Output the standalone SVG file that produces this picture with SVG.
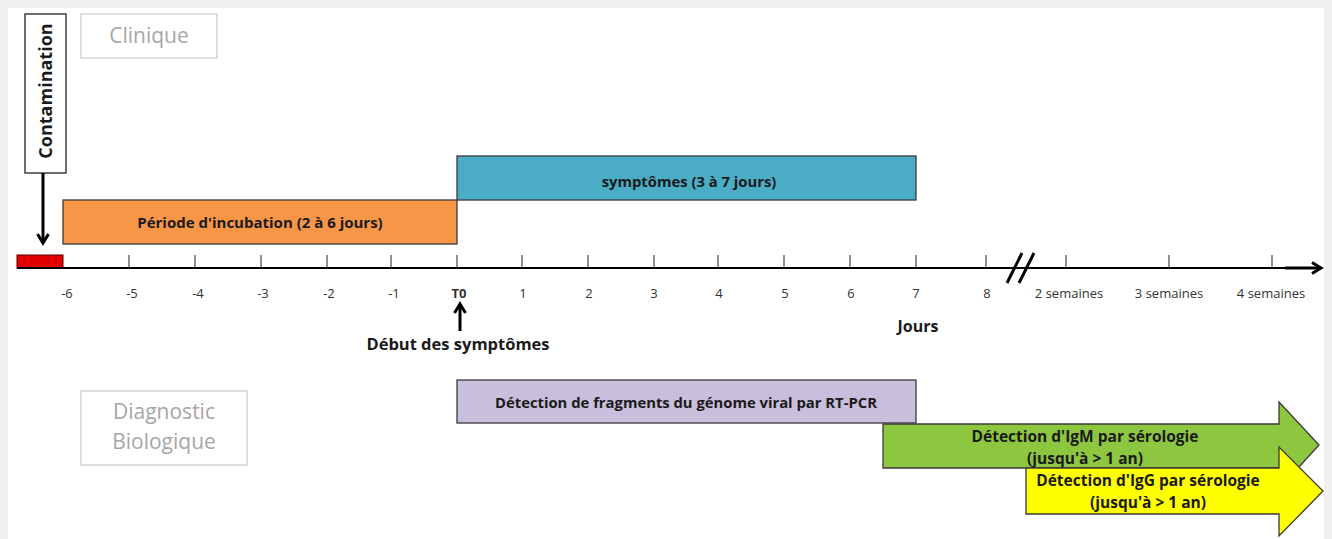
<svg xmlns="http://www.w3.org/2000/svg" width="1332" height="539" viewBox="0 0 1332 539">
<defs>
<style>
.t{font-family:"Open Sans","Noto Sans","Liberation Sans",sans-serif;fill:#1a1a1a}
.b{font-weight:bold}
.box{stroke:#3a3a3a;stroke-width:1.3}
.lbl{font-size:13px;fill:#333;text-anchor:middle}
.sem{font-size:13px;fill:#333;text-anchor:middle}
.tick{stroke:#222;stroke-width:1}
.gray{fill:#a6a6a6;text-anchor:middle;font-size:21px}
.frame{fill:#fff;stroke:#bfbfbf;stroke-width:1}
</style>
<marker id="chev" viewBox="0 0 14 14" refX="11" refY="7" markerWidth="14" markerHeight="14" markerUnits="userSpaceOnUse" orient="auto">
<path d="M2,1.5 L11,7 L2,12.5" fill="none" stroke="#000" stroke-width="3"/>
</marker>
</defs>
<rect x="0" y="0" width="1332" height="539" fill="#f0f0f0"/>
<rect x="8" y="8" width="1316" height="531" fill="#fff"/>

<g id="clinique">
<rect class="frame" x="81" y="14" width="136" height="44"/>
<text class="t gray" x="149" y="43">Clinique</text>
</g>
<g id="diagnostic">
<rect class="frame" x="81" y="391" width="166" height="74"/>
<text class="t gray" x="164" y="419">Diagnostic</text>
<text class="t gray" x="164" y="449">Biologique</text>
</g>

<g id="contamination">
<rect x="25" y="14" width="41" height="159" fill="#fff" stroke="#222" stroke-width="1.3"/>
<text class="t b" x="0" y="0" font-size="18" text-anchor="middle" transform="translate(52,91) rotate(-90)">Contamination</text>
</g>

<g id="incubation">
<rect class="box" x="63" y="200" width="394" height="44" fill="#f79646"/>
<text class="t b" x="260" y="228" font-size="15" text-anchor="middle" fill="#3d2210">Période d'incubation (2 à 6 jours)</text>
</g>
<g id="symptomes">
<rect class="box" x="457" y="156" width="459" height="44" fill="#4bacc6"/>
<text class="t b" x="689" y="187" font-size="14.8" text-anchor="middle" fill="#10303a">symptômes (3 à 7 jours)</text>
</g>

<g id="red-bar">
<rect x="17" y="255" width="46" height="13" fill="#e00000" stroke="#5a0000" stroke-width="1"/>
</g>

<g id="axis">
<line x1="17" y1="268" x2="1290" y2="268" stroke="#000" stroke-width="2"/>
<g class="tick">
<line x1="129" y1="255" x2="129" y2="268"/>
<line x1="195" y1="255" x2="195" y2="268"/>
<line x1="261" y1="255" x2="261" y2="268"/>
<line x1="327" y1="255" x2="327" y2="268"/>
<line x1="391" y1="255" x2="391" y2="268"/>
<line x1="457" y1="255" x2="457" y2="268"/>
<line x1="522" y1="255" x2="522" y2="268"/>
<line x1="588" y1="255" x2="588" y2="268"/>
<line x1="654" y1="255" x2="654" y2="268"/>
<line x1="718" y1="255" x2="718" y2="268"/>
<line x1="784" y1="255" x2="784" y2="268"/>
<line x1="850" y1="255" x2="850" y2="268"/>
<line x1="916" y1="255" x2="916" y2="268"/>
<line x1="986" y1="255" x2="986" y2="268"/>
<line x1="1066" y1="255" x2="1066" y2="268"/>
<line x1="1169" y1="255" x2="1169" y2="268"/>
<line x1="1272" y1="255" x2="1272" y2="268"/>
</g>
<line x1="1007" y1="283" x2="1022" y2="253" stroke="#000" stroke-width="3"/>
<line x1="1019" y1="283" x2="1034" y2="253" stroke="#000" stroke-width="3"/>
<text class="t lbl" x="67" y="298">-6</text>
<text class="t lbl" x="132" y="298">-5</text>
<text class="t lbl" x="198" y="298">-4</text>
<text class="t lbl" x="263" y="298">-3</text>
<text class="t lbl" x="329" y="298">-2</text>
<text class="t lbl" x="394" y="298">-1</text>
<text class="t lbl b" x="459" y="298" fill="#000">T0</text>
<text class="t lbl" x="523" y="298">1</text>
<text class="t lbl" x="589" y="298">2</text>
<text class="t lbl" x="654" y="298">3</text>
<text class="t lbl" x="719" y="298">4</text>
<text class="t lbl" x="785" y="298">5</text>
<text class="t lbl" x="851" y="298">6</text>
<text class="t lbl" x="916" y="298">7</text>
<text class="t lbl" x="987" y="298">8</text>
<text class="t sem" x="1069" y="298">2 semaines</text>
<text class="t sem" x="1169" y="298">3 semaines</text>
<text class="t sem" x="1271" y="298">4 semaines</text>
<text class="t b" x="918" y="332" font-size="16" text-anchor="middle">Jours</text>
</g>

<g id="connectors">
<line x1="1285" y1="268" x2="1321" y2="268" stroke="#000" stroke-width="3" marker-end="url(#chev)"/>
<line x1="43" y1="173" x2="43" y2="243" stroke="#000" stroke-width="3" marker-end="url(#chev)"/>
<line x1="460" y1="331" x2="460" y2="304" stroke="#000" stroke-width="3" marker-end="url(#chev)"/>
</g>

<g id="debut">
<text class="t b" x="458" y="350" font-size="16.5" text-anchor="middle">Début des symptômes</text>
</g>

<g id="rtpcr">
<rect class="box" x="457" y="380" width="459" height="43" fill="#c9bedb"/>
<text class="t b" x="686" y="408" font-size="14.8" text-anchor="middle" fill="#1a1a1a">Détection de fragments du génome viral par RT-PCR</text>
</g>

<g id="igm">
<path d="M883,424 L1279,424 L1279,402 L1319,445 L1279,489 L1279,468 L883,468 Z" fill="#8dc63f" stroke="#3a3a3a" stroke-width="1.3" stroke-linejoin="miter"/>
<text class="t b" x="1085" y="442" font-size="15.5" text-anchor="middle">Détection d'IgM par sérologie</text>
<text class="t b" x="1085" y="464" font-size="15.5" text-anchor="middle">(jusqu'à &gt; 1 an)</text>
</g>

<g id="igg">
<path d="M1026,468 L1279,468 L1279,447 L1323,491 L1279,536 L1279,514 L1026,514 Z" fill="#ffff00" stroke="#3a3a3a" stroke-width="1.3"/>
<text class="t b" x="1148" y="486" font-size="15.5" text-anchor="middle">Détection d'IgG par sérologie</text>
<text class="t b" x="1148" y="508" font-size="15.5" text-anchor="middle">(jusqu'à &gt; 1 an)</text>
</g>
</svg>
